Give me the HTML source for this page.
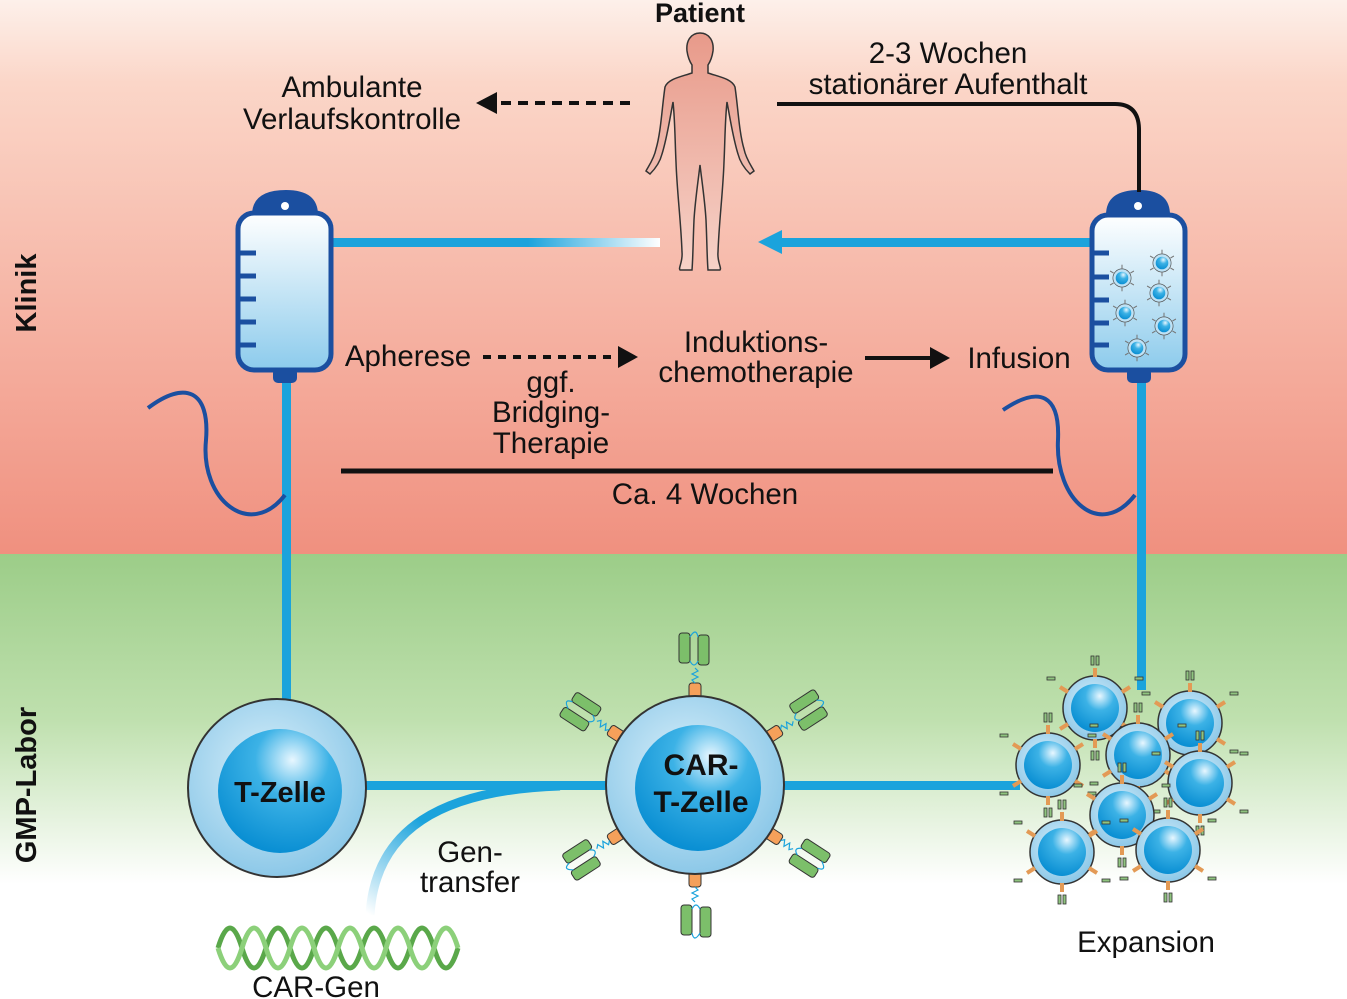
<!DOCTYPE html>
<html><head><meta charset="utf-8"><style>
html,body{margin:0;padding:0;background:#fff}
svg{display:block}
text{font-family:"Liberation Sans",sans-serif}
</style></head><body>
<svg width="1347" height="999" viewBox="0 0 1347 999" xmlns="http://www.w3.org/2000/svg">
<defs>
<linearGradient id="klinik" x1="0" y1="0" x2="0" y2="1">
<stop offset="0" stop-color="#fdf0ea"/><stop offset="0.15" stop-color="#fbd6c8"/><stop offset="1" stop-color="#f0907f"/></linearGradient>
<linearGradient id="gmp" x1="0" y1="0" x2="0" y2="1">
<stop offset="0" stop-color="#9ccd88"/><stop offset="0.5" stop-color="#bfe0ae"/><stop offset="1" stop-color="#ffffff"/></linearGradient>
<linearGradient id="bag" x1="0" y1="0" x2="0" y2="1">
<stop offset="0" stop-color="#ffffff"/><stop offset="1" stop-color="#8ccbec"/></linearGradient>
<linearGradient id="fade" x1="0" y1="0" x2="1" y2="0">
<stop offset="0.6" stop-color="#1ba3dc"/><stop offset="1" stop-color="#ffffff"/></linearGradient>
<linearGradient id="gene" x1="0" y1="1" x2="1" y2="0">
<stop offset="0" stop-color="#ffffff"/><stop offset="0.5" stop-color="#1ba3dc"/></linearGradient>
<radialGradient id="outer" cx="0.45" cy="0.4" r="0.6">
<stop offset="0" stop-color="#d8effa"/><stop offset="1" stop-color="#8cc8e8"/></radialGradient>
<radialGradient id="inner" cx="0.6" cy="0.25" r="0.75">
<stop offset="0" stop-color="#e8f7ff"/><stop offset="0.4" stop-color="#3cb2e6"/><stop offset="1" stop-color="#0a8fd3"/></radialGradient>
<linearGradient id="body" x1="0" y1="0" x2="0" y2="1">
<stop offset="0" stop-color="#e89a8a"/><stop offset="1" stop-color="#f6d2c8"/></linearGradient>
<g id="mini">
<circle r="13" fill="#bfe2f5" stroke="#555" stroke-width="1"/>
<circle r="9" fill="url(#inner)"/>
<g stroke="#777" stroke-width="1.5">
<line x1="0" y1="-13" x2="0" y2="-19"/><line x1="0" y1="13" x2="0" y2="19"/>
<line x1="-12" y1="-7" x2="-17" y2="-10"/><line x1="12" y1="-7" x2="17" y2="-10"/>
<line x1="-12" y1="7" x2="-17" y2="10"/><line x1="12" y1="7" x2="17" y2="10"/></g>
</g>
<g id="exc">
<circle r="32" fill="url(#outer)" stroke="#333" stroke-width="1.5"/>
<circle r="24" fill="url(#inner)"/>
<g stroke="#e39a55" stroke-width="4">
<line x1="0" y1="-31" x2="0" y2="-40"/><line x1="0" y1="31" x2="0" y2="40"/>
<line x1="-27" y1="-16" x2="-35" y2="-21"/><line x1="27" y1="-16" x2="35" y2="-21"/>
<line x1="-27" y1="16" x2="-35" y2="21"/><line x1="27" y1="16" x2="35" y2="21"/></g>
<g fill="#8fc47f" stroke="#333" stroke-width="0.8">
<rect x="-4" y="-52" width="3" height="9"/><rect x="1" y="-52" width="3" height="9"/>
<rect x="-4" y="43" width="3" height="9"/><rect x="1" y="43" width="3" height="9"/>
<rect x="-48" y="-31" width="8" height="3"/><rect x="40" y="-31" width="8" height="3"/>
<rect x="-48" y="27" width="8" height="3"/><rect x="40" y="27" width="8" height="3"/></g>
</g>
<g id="car">
<rect x="-6" y="-14" width="12" height="26" rx="3" fill="#f5a05a" stroke="#333"/>
<path d="M0,-14 l-3,-3 l6,-3 l-6,-3 l6,-3 l-3,-3" fill="none" stroke="#1ba3dc" stroke-width="1.2"/>
<rect x="-16" y="-64" width="11" height="30" rx="3" fill="#7cbf6a" stroke="#333"/>
<rect x="3" y="-62" width="11" height="30" rx="3" fill="#7cbf6a" stroke="#333"/>
<path d="M-5,-60 q6,-10 8,0 M-5,-36 q4,8 8,0" fill="none" stroke="#1ba3dc" stroke-width="1.2"/>
</g>
</defs>

<rect x="0" y="0" width="1347" height="554" fill="url(#klinik)"/>
<rect x="0" y="554" width="1347" height="330" fill="url(#gmp)"/>

<text x="36" y="293" transform="rotate(-90 36 293)" font-size="29" font-weight="bold" text-anchor="middle" fill="#111">Klinik</text>
<text x="36" y="785" transform="rotate(-90 36 785)" font-size="29" font-weight="bold" text-anchor="middle" fill="#111">GMP-Labor</text>

<rect x="330" y="238" width="330" height="9" fill="url(#fade)"/>
<rect x="780" y="238" width="312" height="9" fill="#1ba3dc"/>
<polygon points="758,242 782,230 782,254" fill="#1ba3dc"/>
<rect x="282" y="380" width="9" height="322" fill="#1ba3dc"/>
<rect x="1137" y="380" width="9" height="310" fill="#1ba3dc"/>
<rect x="365" y="781" width="245" height="9" fill="#1ba3dc"/>
<rect x="780" y="781" width="240" height="9" fill="#1ba3dc"/>
<path d="M370,915 C375,830 440,790 560,786" fill="none" stroke="url(#gene)" stroke-width="9"/>

<path d="M148,408 C185,380 210,390 206,440 C200,500 250,540 285,495" fill="none" stroke="#1b4fa0" stroke-width="4"/>
<path d="M1003,410 C1040,385 1060,395 1058,440 C1055,500 1100,540 1135,495" fill="none" stroke="#1b4fa0" stroke-width="4"/>

<g>
<path d="M252,215 Q252,190 286,190 Q318,190 318,215 Z" fill="#1b4fa0"/>
<circle cx="285" cy="206" r="4" fill="#fff"/>
<rect x="238" y="213" width="93" height="157" rx="16" fill="url(#bag)" stroke="#1b4fa0" stroke-width="5"/>
<rect x="273" y="368" width="24" height="15" rx="5" fill="#1b4fa0"/>
<g stroke="#1b4fa0" stroke-width="5"><line x1="238" y1="253" x2="256" y2="253"/><line x1="238" y1="276" x2="256" y2="276"/><line x1="238" y1="299" x2="256" y2="299"/><line x1="238" y1="322" x2="256" y2="322"/><line x1="238" y1="345" x2="256" y2="345"/></g>
</g>
<g>
<path d="M1106,215 Q1106,190 1139,190 Q1170,190 1170,215 Z" fill="#1b4fa0"/>
<circle cx="1138" cy="206" r="4" fill="#fff"/>
<rect x="1092" y="215" width="93" height="155" rx="16" fill="url(#bag)" stroke="#1b4fa0" stroke-width="5"/>
<rect x="1127" y="368" width="24" height="15" rx="5" fill="#1b4fa0"/>
<g stroke="#1b4fa0" stroke-width="5"><line x1="1092" y1="253" x2="1109" y2="253"/><line x1="1092" y1="277" x2="1109" y2="277"/><line x1="1092" y1="300" x2="1109" y2="300"/><line x1="1092" y1="323" x2="1109" y2="323"/><line x1="1092" y1="345" x2="1109" y2="345"/></g>
<use href="#mini" transform="translate(1122 278) scale(0.7)"/>
<use href="#mini" transform="translate(1162 263) scale(0.7)"/>
<use href="#mini" transform="translate(1159 293) scale(0.7)"/>
<use href="#mini" transform="translate(1125 313) scale(0.7)"/>
<use href="#mini" transform="translate(1164 326) scale(0.7)"/>
<use href="#mini" transform="translate(1137 348) scale(0.7)"/>
</g>

<text x="700" y="22" font-size="27" font-weight="bold" text-anchor="middle" fill="#111">Patient</text>
<path d="M700,33 c-10,0 -14,9 -13,18 c1,7 3,11 5,14 l0,8 c-12,4 -24,6 -27,14 c-3,20 -4,45 -9,62 c-2,10 -8,18 -10,22 l4,3 c5,-5 10,-12 12,-20 c5,-16 8,-36 11,-52 c2,18 2,40 3,60 c1,30 5,60 6,90 c1,10 -4,16 -2,18 l12,0 c1,-12 1,-28 2,-50 c1,-18 4,-38 6,-55 c2,17 5,37 6,55 c1,22 1,38 2,50 l12,0 c2,-2 -3,-8 -2,-18 c1,-30 5,-60 6,-90 c1,-20 1,-42 3,-60 c3,16 6,36 11,52 c2,8 7,15 12,20 l4,-3 c-2,-4 -8,-12 -10,-22 c-5,-17 -6,-42 -9,-62 c-3,-8 -15,-10 -27,-14 l0,-8 c2,-3 4,-7 5,-14 c1,-9 -3,-18 -13,-18 z" fill="url(#body)" stroke="#333" stroke-width="1.5"/>

<text x="352" y="97" font-size="29.5" text-anchor="middle" fill="#111">Ambulante</text>
<text x="352" y="129" font-size="29.5" text-anchor="middle" fill="#111">Verlaufskontrolle</text>
<line x1="630" y1="103" x2="495" y2="103" stroke="#111" stroke-width="4" stroke-dasharray="10,7"/>
<polygon points="476,103 497,92 497,114" fill="#111"/>
<text x="948" y="63" font-size="29.5" text-anchor="middle" fill="#111">2-3 Wochen</text>
<text x="948" y="94" font-size="29.5" text-anchor="middle" fill="#111">stationärer Aufenthalt</text>
<path d="M777,104 L1115,104 Q1139,104 1139,130 L1139,192" fill="none" stroke="#111" stroke-width="4"/>

<text x="408" y="366" font-size="29.5" text-anchor="middle" fill="#111">Apherese</text>
<line x1="483" y1="357" x2="620" y2="357" stroke="#111" stroke-width="4" stroke-dasharray="8,7"/>
<polygon points="638,357 618,346 618,368" fill="#111"/>
<text x="756" y="352" font-size="29.5" text-anchor="middle" fill="#111">Induktions-</text>
<text x="756" y="382" font-size="29.5" text-anchor="middle" fill="#111">chemotherapie</text>
<line x1="865" y1="358" x2="930" y2="358" stroke="#111" stroke-width="4"/>
<polygon points="950,358 930,347 930,369" fill="#111"/>
<text x="1019" y="368" font-size="29.5" text-anchor="middle" fill="#111">Infusion</text>
<text x="551" y="392" font-size="29.5" text-anchor="middle" fill="#111">ggf.</text>
<text x="551" y="422" font-size="29.5" text-anchor="middle" fill="#111">Bridging-</text>
<text x="551" y="453" font-size="29.5" text-anchor="middle" fill="#111">Therapie</text>
<line x1="341" y1="471" x2="1053" y2="471" stroke="#111" stroke-width="5"/>
<text x="705" y="504" font-size="29.5" text-anchor="middle" fill="#111">Ca. 4 Wochen</text>

<circle cx="277" cy="788" r="89" fill="url(#outer)" stroke="#333" stroke-width="2"/>
<circle cx="280" cy="791" r="62" fill="url(#inner)"/>
<text x="280" y="802" font-size="29" font-weight="bold" text-anchor="middle" fill="#111">T-Zelle</text>

<g transform="translate(695 785)">
<use href="#car" transform="rotate(0) translate(0 -88)"/>
<use href="#car" transform="rotate(57) translate(0 -88)"/>
<use href="#car" transform="rotate(123) translate(0 -88)"/>
<use href="#car" transform="rotate(180) translate(0 -88)"/>
<use href="#car" transform="rotate(-123) translate(0 -88)"/>
<use href="#car" transform="rotate(-57) translate(0 -88)"/>
<circle r="89" fill="url(#outer)" stroke="#333" stroke-width="2"/>
<circle cx="3" cy="3" r="63" fill="url(#inner)"/>
</g>
<text x="701" y="775" font-size="30" font-weight="bold" text-anchor="middle" fill="#111">CAR-</text>
<text x="701" y="812" font-size="30" font-weight="bold" text-anchor="middle" fill="#111">T-Zelle</text>

<text x="470" y="862" font-size="29.5" text-anchor="middle" fill="#111">Gen-</text>
<text x="470" y="892" font-size="29.5" text-anchor="middle" fill="#111">transfer</text>

<g fill="none" stroke-width="5">
<path d="M218,948 q12,-40 24,0 t24,0 t24,0 t24,0 t24,0 t24,0 t24,0 t24,0 t24,0 t24,0" stroke="#5aa84a"/>
<path d="M218,948 q12,40 24,0 t24,0 t24,0 t24,0 t24,0 t24,0 t24,0 t24,0 t24,0 t24,0" stroke="#8cd07a"/>
</g>
<text x="316" y="997" font-size="29.5" text-anchor="middle" fill="#111">CAR-Gen</text>

<use href="#exc" x="1095" y="708"/>
<use href="#exc" x="1190" y="723"/>
<use href="#exc" x="1048" y="765"/>
<use href="#exc" x="1138" y="755"/>
<use href="#exc" x="1200" y="783"/>
<use href="#exc" x="1122" y="815"/>
<use href="#exc" x="1062" y="852"/>
<use href="#exc" x="1168" y="850"/>
<text x="1146" y="952" font-size="29.5" text-anchor="middle" fill="#111">Expansion</text>
</svg>
</body></html>
